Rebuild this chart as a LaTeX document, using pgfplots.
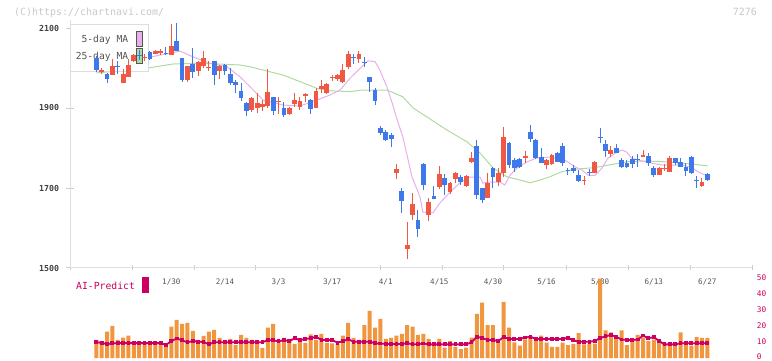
\documentclass[border=0pt]{standalone}
\usepackage{pgfplots}
\pgfplotsset{compat=1.18}
\usepackage{pgfplotstable}
\usepackage{fontspec}
\setmainfont{DejaVu Sans Mono}
\definecolor{cRed}{HTML}{EF5842}
\definecolor{cBlue}{HTML}{3F78E8}
\definecolor{cOrange}{HTML}{F0963E}
\definecolor{cMag}{HTML}{CC0060}
\definecolor{cPink}{HTML}{E6B0EA}
\definecolor{cGreen}{HTML}{B0DAA0}
\definecolor{cAx}{HTML}{DDDDDD}
\definecolor{cTick}{HTML}{CCCCCC}
\definecolor{cLab}{HTML}{555555}
\definecolor{cWm}{HTML}{C8C8C8}

\pgfplotstableread{
i o h l c
1 1989 2000 1985 1996
3 1983 2022 1982 2005
5 1962 1997 1962 1985
6 1978 2022 1978 2007
7 2017 2035 2015 2032
9 2026 2035 2018 2028
11 2035 2046 2034 2042
12 2037 2048 2032 2042
14 2033 2111 2033 2056
17 1971 2006 1965 2006
19 1992 2017 1980 2015
20 2004 2042 2000 2025
21 2001 2017 1992 2003
23 1993 2008 1973 2006
29 1895 1928 1891 1926
30 1899 1937 1888 1913
31 1902 1920 1893 1910
32 1906 1997 1899 1941
34 1914 1928 1885 1916
36 1885 1903 1882 1901
37 1909 1937 1903 1920
38 1903 1927 1895 1917
39 1931 1937 1916 1935
41 1901 1949 1899 1942
42 1947 1970 1937 1955
43 1938 1962 1936 1960
44 1974 1982 1968 1976
45 1972 1985 1968 1982
46 1966 2010 1962 1995
47 2003 2043 1997 2035
49 2022 2043 2012 2035
56 1738 1760 1722 1747
58 1547 1616 1522 1557
59 1632 1688 1620 1660
62 1632 1676 1618 1666
64 1702 1755 1697 1735
66 1691 1714 1685 1712
67 1722 1741 1712 1738
69 1705 1732 1703 1730
70 1765 1791 1762 1776
73 1676 1738 1674 1712
75 1716 1750 1705 1738
76 1737 1853 1728 1828
80 1774 1793 1762 1780
84 1757 1772 1747 1770
85 1759 1784 1757 1782
91 1717 1730 1707 1719
93 1738 1767 1737 1766
96 1785 1805 1777 1795
102 1778 1795 1778 1782
105 1732 1752 1732 1750
106 1748 1760 1743 1750
107 1741 1780 1741 1775
113 1705 1724 1702 1716
}\redtab

\pgfplotstableread{
i o h l c
0 2026 2030 1989 1995
2 1985 1987 1962 1973
4 2003 2017 1985 2002
8 2031 2045 2020 2030
10 2040 2042 2021 2023
13 2036 2052 2033 2035
15 2068 2112 2042 2042
16 2025 2025 1965 1971
18 2010 2050 1975 1989
22 2017 2017 1957 1983
24 2007 2010 1982 1993
25 1985 2000 1957 1962
26 1965 1970 1937 1958
27 1942 1962 1917 1925
28 1913 1915 1880 1893
33 1928 1928 1882 1893
35 1899 1916 1877 1882
40 1920 1922 1885 1897
48 2027 2035 2010 2025
50 2015 2028 2003 2013
51 1977 1977 1941 1966
52 1945 1951 1907 1918
53 1849 1855 1833 1837
54 1841 1845 1818 1820
55 1832 1837 1803 1822
57 1693 1699 1637 1668
60 1620 1645 1578 1597
61 1760 1762 1695 1707
63 1680 1705 1672 1673
65 1724 1735 1682 1707
68 1727 1732 1707 1716
71 1805 1820 1672 1682
72 1699 1700 1663 1670
74 1751 1752 1699 1728
77 1813 1815 1749 1757
78 1770 1775 1741 1749
79 1772 1776 1749 1753
81 1841 1857 1816 1822
82 1820 1822 1772 1774
83 1778 1800 1762 1763
86 1787 1789 1764 1766
87 1805 1813 1756 1762
88 1746 1751 1732 1742
89 1751 1757 1737 1742
90 1732 1745 1716 1717
92 1741 1747 1730 1737
94 1828 1849 1813 1826
95 1810 1820 1778 1792
97 1800 1810 1788 1788
98 1770 1774 1749 1753
99 1763 1770 1750 1753
100 1772 1780 1751 1760
101 1773 1785 1753 1771
103 1780 1788 1755 1763
104 1750 1755 1728 1733
108 1775 1776 1757 1763
109 1765 1775 1753 1753
110 1752 1762 1730 1743
111 1777 1780 1735 1738
112 1719 1730 1701 1717
114 1735 1737 1718 1720
}\bluetab

\pgfplotstableread{
i v m
0 11.25 9.8
1 10.6 9.5
2 16.5 8.6
3 20 9.2
4 11.25 9.3
5 12.7 9.3
6 14 9.3
7 10.6 9.3
8 10.6 9.3
9 9.2 9.3
10 10.6 9.3
11 9.8 9.3
12 9.8 9.3
13 7.1 8.2
14 19.6 10.5
15 23.75 12.2
16 21.25 11
17 22 9.8
18 16.9 10.6
19 11.25 10.2
20 13.75 10
21 16.5 8.6
22 17.5 9.8
23 12.5 9.8
24 9.8 9.8
25 11.9 9.8
26 8.1 9.8
27 14.4 9.8
28 12.5 9.8
29 11.25 9.8
30 9.8 9.8
31 6.25 9.8
32 19 11.2
33 21.25 11
34 9.8 10.4
35 12.5 11.2
36 11.25 10.5
37 8.75 12.3
38 11.25 11.2
39 9.4 11.9
40 14.8 12.3
41 11.25 13.3
42 15 11.25
43 9.4 11.25
44 9.2 11.25
45 8.5 9.6
46 14 10.5
47 21.9 11.7
48 12.5 10.2
49 11.25 10.2
50 20.6 10.2
51 29.4 10.2
52 19 9.2
53 24.4 9
54 11.9 8.8
55 12.5 8.8
56 14 8.8
57 15 8.8
58 20.6 9.2
59 19.6 8.6
60 14.4 8.6
61 15 9.1
62 11.9 8.5
63 7.7 8.5
64 11.9 8.5
65 6.5 8.5
66 10.6 8.5
67 6.9 8.5
68 5.6 8.5
69 6.5 8.5
70 12.7 9.8
71 27.5 13.3
72 34.6 12.5
73 20.6 11.25
74 20.6 11.25
75 9.8 10.6
76 35 13.1
77 19 11.9
78 9.8 11.9
79 7.7 11.9
80 11.7 12.8
81 13.3 13.3
82 11.25 11.9
83 14 11.9
84 9.6 11.9
85 6.9 11.9
86 6.9 11.9
87 9.6 11.9
88 8.1 12.7
89 8.75 11
90 15.6 10.2
91 8.5 10.2
92 9 10.2
93 9 10.6
94 49.4 12.5
95 17.3 13.5
96 16 14.4
97 11.9 13.3
98 17.3 11.5
99 8.1 11.25
100 11.9 11.25
101 14.4 11.5
102 12.7 14
103 10.6 12.3
104 11.5 13.1
105 10.6 10.6
106 9 8.5
107 8.5 8.5
108 8.1 8.5
109 16 9.2
110 9.8 9.2
111 7.7 9.2
112 13.1 9.2
113 12.5 9.2
114 12.5 9.2
}\voltab

\tikzset{ylab/.style={anchor=east, inner sep=0, text=black!75, font=\bfseries\fontsize{8.3}{10}\selectfont, xshift=-10.7bp},
  xlab/.style={anchor=center, inner sep=0, text=cLab, font=\fontsize{7.6}{9}\selectfont, yshift=-13.7bp},
  vlab/.style={anchor=west, inner sep=0, text=cMag, font=\fontsize{7.8}{9}\selectfont, xshift=4.7bp}}

\begin{document}
\begin{tikzpicture}
\path (0,0) rectangle (772bp,361bp);
\node[anchor=west, inner sep=0, text=cWm, font=\fontsize{10}{12}\selectfont] at (14bp,348.7bp) {(C)https://chartnavi.com/};
\node[anchor=east, inner sep=0, text=cWm, font=\fontsize{10}{12}\selectfont] at (757bp,349bp) {7276};
\node[anchor=west, inner sep=0, text=cMag, font=\fontsize{9.8}{12}\selectfont] at (76bp,75bp) {AI-Predict};
\fill[cMag] (142bp,68bp) rectangle (149bp,84bp);

\begin{axis}[
  at={(70bp,93bp)}, anchor=south west, scale only axis,
  width=682bp, height=248bp,
  xmin=-4.907, xmax=122.33, ymin=1500, ymax=2120,
  axis x line*=bottom, axis y line*=left,
  axis line style={draw=cAx, line width=1bp},
  tick align=center,
  xtick={-4.907,6.66,18.23,29.79,41.36,52.93,64.50,76.06,87.63,99.20,110.77,122.33},
  ytick={1500,1700,1900,2100},
  xticklabels={}, yticklabels={},
  xtick style={draw=cTick, line width=1bp, /pgfplots/major tick length=5bp},
  ytick style={draw=cTick, line width=1bp, /pgfplots/major tick length=8bp},
  clip=false,
  candle/.style={draw=none, mark=none, forget plot, error bars/.cd, y dir=plus, y explicit, error mark=none},
]
\addplot[cGreen, line width=1bp] coordinates {
(0,1987.5) (9.64,2000) (14.3,2010) (19.3,2012) (26.8,2007.5) (28.7,2003)
(34.8,1982.5) (38.0,1966) (41.2,1949) (43.6,1943) (47.3,1941) (49.7,1945)
(54.2,1945) (57.2,1928) (59.1,1900) (61.7,1877.5) (65.4,1845) (69.1,1816)
(71.6,1787.5) (74.0,1750) (76.6,1728) (79.0,1720) (80.9,1713) (82.8,1720)
(84.6,1728) (86.9,1741) (89.8,1747.5) (93.0,1751) (96.2,1759) (99.2,1766)
(102.3,1767.5) (105.5,1766) (108.5,1763) (111.7,1759) (114.1,1755)};
\addplot[cPink, line width=1bp] coordinates {
(9.64,2025.75) (11.9,2032.5) (14.3,2038) (15.6,2042.5) (18.0,2028) (21.2,2012)
(24.4,2003) (26.8,1978) (28.7,1953) (31.1,1920) (34.8,1907.5) (38.0,1905)
(41.2,1920) (43.6,1932.5) (45.5,1945) (47.3,1974) (49.2,1999) (50.7,2018)
(52.0,2016) (52.9,1995) (54.2,1953) (55.2,1912.5) (56.1,1872) (57.2,1827.5)
(58.9,1727.5) (60.4,1677.5) (60.9,1640) (62.8,1637.5) (64.1,1662.5) (66.0,1690)
(67.8,1712.5) (69.7,1727.5) (71.6,1727.5) (72.1,1712.5) (73.4,1715) (75.3,1715)
(76.2,1707.5) (77.2,1732.5) (78.5,1750) (80.3,1765) (82.2,1775) (84.6,1777.5)
(87.4,1770) (89.3,1753) (90.6,1745) (91.7,1732.5) (93.0,1731) (94.3,1749)
(95.4,1774) (96.8,1787) (98.1,1795) (99.0,1789) (99.9,1774) (101.8,1767.5)
(103.7,1762) (105.5,1757.5) (107.4,1757.5) (109.3,1757.5) (111.1,1751)
(112.2,1741) (113.5,1732.5)};

\filldraw[fill=white, draw=cAx, line width=1bp] (axis cs:-4.907,2110) rectangle (axis cs:9.68,1992.5);
\node[anchor=east, inner sep=0, text=cLab, font=\fontsize{9.7}{11}\selectfont] at (axis cs:5.98,2070) {5-day MA};
\node[anchor=east, inner sep=0, text=cLab, font=\fontsize{9.7}{11}\selectfont] at (axis cs:5.98,2028) {25-day MA};
\filldraw[fill=cPink, draw=cLab, line width=0.9bp] (axis cs:7.4,2092.5) rectangle (axis cs:8.66,2053);
\filldraw[fill=cGreen, draw=cLab, line width=0.9bp] (axis cs:7.4,2049) rectangle (axis cs:8.66,2011.75);

\addplot[candle, error bar style={line width=1bp, draw=cRed, solid}]
  table[x=i, y=l, y error expr={\thisrow{h}-\thisrow{l}}]{\redtab};
\addplot[candle, error bar style={line width=1bp, draw=cBlue, solid}]
  table[x=i, y=l, y error expr={\thisrow{h}-\thisrow{l}}]{\bluetab};
\addplot[candle, error bar style={line width=4.8bp, draw=cRed, solid}]
  table[x=i, y=o, y error expr={max(\thisrow{c}-\thisrow{o},2.5)}]{\redtab};
\addplot[candle, error bar style={line width=4.8bp, draw=cBlue, solid}]
  table[x=i, y=c, y error expr={max(\thisrow{o}-\thisrow{c},2.5)}]{\bluetab};

\node[ylab] at (axis cs:-4.907,1500) {1500};
\node[ylab] at (axis cs:-4.907,1700) {1700};
\node[ylab] at (axis cs:-4.907,1900) {1900};
\node[ylab] at (axis cs:-4.907,2100) {2100};

\node[xlab] at (axis cs:14,1500) {1/30};
\node[xlab] at (axis cs:24,1500) {2/14};
\node[xlab] at (axis cs:34,1500) {3/3};
\node[xlab] at (axis cs:44,1500) {3/17};
\node[xlab] at (axis cs:54,1500) {4/1};
\node[xlab] at (axis cs:64,1500) {4/15};
\node[xlab] at (axis cs:74,1500) {4/30};
\node[xlab] at (axis cs:84,1500) {5/16};
\node[xlab] at (axis cs:94,1500) {5/30};
\node[xlab] at (axis cs:104,1500) {6/13};
\node[xlab] at (axis cs:114,1500) {6/27};
\end{axis}

\begin{axis}[
  at={(70bp,3bp)}, anchor=south west, scale only axis,
  width=682bp, height=80bp,
  xmin=-4.907, xmax=122.33, ymin=0, ymax=50,
  hide axis, clip=false,
]
\addplot[ybar, bar width=4bp, fill=cOrange, draw=none] table[x=i, y=v]{\voltab};
\addplot[cMag, line width=1.8bp, mark=square*, mark size=1bp] table[x=i, y=m]{\voltab};
\node[vlab, yshift=1.5bp] at (axis cs:122.33,0) {0};
\node[vlab] at (axis cs:122.33,10) {10};
\node[vlab] at (axis cs:122.33,20) {20};
\node[vlab] at (axis cs:122.33,30) {30};
\node[vlab] at (axis cs:122.33,40) {40};
\node[vlab] at (axis cs:122.33,50) {50};
\end{axis}
\end{tikzpicture}
\end{document}
